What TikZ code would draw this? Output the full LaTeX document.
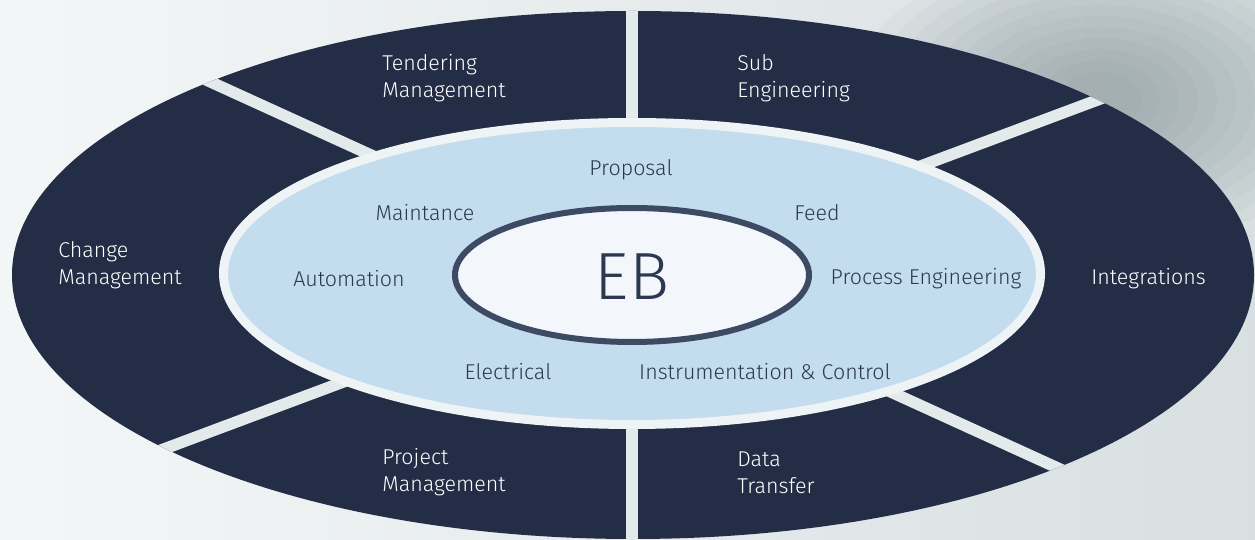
\documentclass[tikz,border=0pt]{standalone}
\usepackage{fontspec}
\setmainfont{Fira Sans}[UprightFont=* Light]
\usepackage{tikz}
\usetikzlibrary{positioning}

\definecolor{navy}{HTML}{232D45}
\definecolor{ringblue}{HTML}{C3DCEE}
\definecolor{ringedge}{HTML}{EEF4F6}
\definecolor{gapgray}{HTML}{E2EAEC}
\definecolor{blobgray}{HTML}{6E7E85}
\definecolor{inktext}{HTML}{2C3850}
\definecolor{coreedge}{HTML}{3D4A63}
\definecolor{corefill}{HTML}{F3F7FB}

\begin{document}
\begin{tikzpicture}[x=0.02cm,y=-0.02cm,
    outertext/.style={text=white,font=\fontsize{12.2}{15.4}\selectfont,align=left,anchor=west,inner sep=0pt},
    innertext/.style={text=inktext,font=\fontsize{12.2}{14}\selectfont,inner sep=0pt}]
    \useasboundingbox (0,0) rectangle (1255,540);
    % background
    \shade[left color=white!60!gapgray, right color=gapgray!90!gray] (0,0) rectangle (1255,540);
    \foreach \k in {0,...,11}
        \fill[blobgray, opacity=0.05] (1100,100) ellipse [x radius=250-19*\k, y radius=150-11*\k];

    \coordinate (c) at (632,274);
    \fill[navy] (633,275) ellipse [x radius=621, y radius=264];
    \begin{scope}
        \clip (633,275) ellipse [x radius=621, y radius=264];
        \draw[gapgray, line width=0.23cm] (c) ++(-155.5:720) -- ++(24.5:1440);
        \draw[gapgray, line width=0.23cm] (c) ++(-20.5:720) -- ++(159.5:1440);
        \draw[gapgray, line width=0.23cm] (632,0) -- (632,540);
    \end{scope}

    \draw[ringedge, line width=0.18cm, fill=ringblue] (632,273.5) ellipse [x radius=408.5, y radius=151];
    \draw[coreedge, line width=0.12cm, fill=corefill] (632,275) ellipse [x radius=177, y radius=67];

    \node[text=inktext, inner sep=0pt, font=\fontsize{38}{40}\selectfont] (eb) at (632,277) {EB};

    \node[outertext] (tender) at (382,78.5) {Tendering\\Management};
    \node[outertext] (subeng) at (737,78.5) {Sub\\Engineering};
    \node[outertext] (change) at (58,265.5) {Change\\Management};
    \node[outertext] (integ) at (1091,279) {Integrations};
    \node[outertext] (project) at (382,472.5) {Project\\Management};
    \node[outertext] (data) at (737,472.5) {Data\\Transfer};

    \node[innertext] (proposal) at (631,170) {Proposal};
    \node[innertext] (maint) at (425,213) {Maintance};
    \node[innertext] (feed) at (817,213) {Feed};
    \node[innertext] (auto) at (349,279) {Automation};
    \node[innertext] (process) at (926,279) {Process Engineering};
    \node[innertext] (elec) at (508,372) {Electrical};
    \node[innertext] (instr) at (765,372) {Instrumentation \& Control};
\end{tikzpicture}
\end{document}
